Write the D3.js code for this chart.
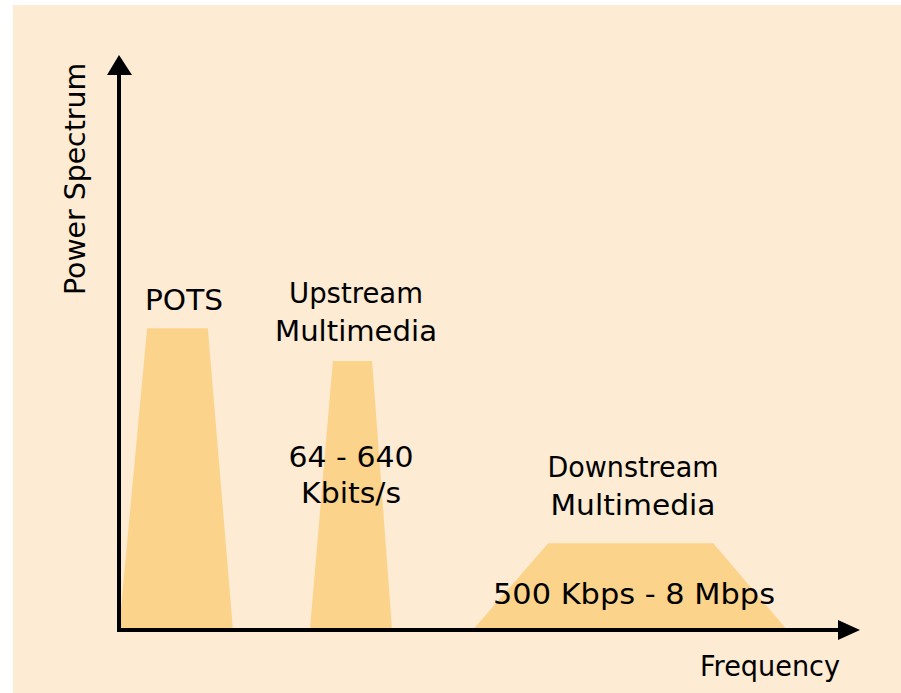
<!DOCTYPE html>
<html>
<head>
<meta charset="utf-8">
<script src="https://cdn.jsdelivr.net/npm/d3@7"></script>
<style>
  html, body { margin: 0; padding: 0; background: #ffffff; }
  svg { display: block; }
</style>
</head>
<body>
<div id="plot"></div>
<script>
// band names and the corner points of each trapezoid (frequency units, power units)
var bandNames = ["POTS", "Upstream", "Downstream"];
var bandBottomLeft = [0, 25.8, 47.8];
var bandTopLeft = [3.8, 28.9, 58.0];
var bandTopRight = [12.0, 34.2, 80.3];
var bandBottomRight = [15.4, 36.9, 90.3];
var bandPower = [52.5, 46.8, 15.1];

// text shown on the chart
var titleLines = [["POTS"], ["Upstream", "Multimedia"], ["Downstream", "Multimedia"]];
var rateLines = [[], ["64 - 640", "Kbits/s"], ["500 Kbps - 8 Mbps"]];
var xAxisLabel = "Frequency";
var yAxisLabel = "Power Spectrum";

var width = 901, height = 693;

var svg = d3.select("#plot")
  .append("svg")
  .attr("width", width)
  .attr("height", height);

// peach paper, with a thin white strip top and left
svg.append("rect")
  .attr("x", 13)
  .attr("y", 5)
  .attr("width", width - 13)
  .attr("height", height - 5)
  .style("fill", "#fdebd3");

var x = d3.scaleLinear().domain([0, 100]).range([119, 859]);
var y = d3.scaleLinear().domain([0, 100]).range([630, 55]);

var bands = bandNames.map(function(name, i) {
  return {
    name: name,
    points: [
      [bandBottomLeft[i], 0],
      [bandTopLeft[i], bandPower[i]],
      [bandTopRight[i], bandPower[i]],
      [bandBottomRight[i], 0]
    ]
  };
});

var area = d3.line()
  .x(function(d) { return x(d[0]); })
  .y(function(d) { return y(d[1]); });

svg.selectAll(".band")
  .data(bands)
  .join("path")
  .attr("class", "band")
  .attr("d", function(d) { return area(d.points) + "Z"; })
  .style("fill", "#fcd38b");

// axes
svg.append("line")
  .attr("x1", x(0)).attr("y1", y(0) + 2)
  .attr("x2", x(0)).attr("y2", y(100) + 15)
  .style("stroke", "#000").style("stroke-width", 4);

svg.append("line")
  .attr("x1", x(0) - 2).attr("y1", y(0))
  .attr("x2", x(100) - 15).attr("y2", y(0))
  .style("stroke", "#000").style("stroke-width", 4);

svg.append("path")
  .attr("d", "M" + x(0) + "," + y(100) + "L" + (x(0) - 12) + "," + (y(100) + 20) + "L" + (x(0) + 13) + "," + (y(100) + 20) + "Z")
  .style("fill", "#000");

svg.append("path")
  .attr("d", "M" + (x(100) + 1) + "," + y(0) + "L" + (x(100) - 21) + "," + (y(0) - 10) + "L" + (x(100) - 21) + "," + (y(0) + 10) + "Z")
  .style("fill", "#000");

// label placement: [centre x, baseline y of first line, line gap, widths]
var titleLayout = [
  {cx: 184, y: 310, gap: 38, w: [78]},
  {cx: 356, y: 303, gap: 38, w: [134, 162]},
  {cx: 633, y: 477, gap: 38, w: [171, 165]}
];
var rateLayout = [
  {cx: 0, y: 0, gap: 0, w: []},
  {cx: 351, y: 467, gap: 36, w: [125, 100]},
  {cx: 634, y: 604, gap: 0, w: [282]}
];

function drawLines(lines, layout) {
  lines.forEach(function(group, i) {
    group.forEach(function(t, j) {
      svg.append("text")
        .attr("x", layout[i].cx)
        .attr("y", layout[i].y + j * layout[i].gap)
        .attr("text-anchor", "middle")
        .attr("textLength", layout[i].w[j])
        .attr("lengthAdjust", "spacingAndGlyphs")
        .style("font-family", "DejaVu Sans")
        .style("font-size", "29px")
        .style("fill", "#000")
        .text(t);
    });
  });
}
drawLines(titleLines, titleLayout);
drawLines(rateLines, rateLayout);

svg.append("text")
  .attr("x", 770)
  .attr("y", 676)
  .attr("text-anchor", "middle")
  .attr("textLength", 140)
  .attr("lengthAdjust", "spacingAndGlyphs")
  .style("font-family", "DejaVu Sans")
  .style("font-size", "29px")
  .style("fill", "#000")
  .text(xAxisLabel);

svg.append("text")
  .attr("transform", "translate(85,179) rotate(-90)")
  .attr("text-anchor", "middle")
  .attr("textLength", 232)
  .attr("lengthAdjust", "spacingAndGlyphs")
  .style("font-family", "DejaVu Sans")
  .style("font-size", "29px")
  .style("fill", "#000")
  .text(yAxisLabel);
</script>
</body>
</html>
